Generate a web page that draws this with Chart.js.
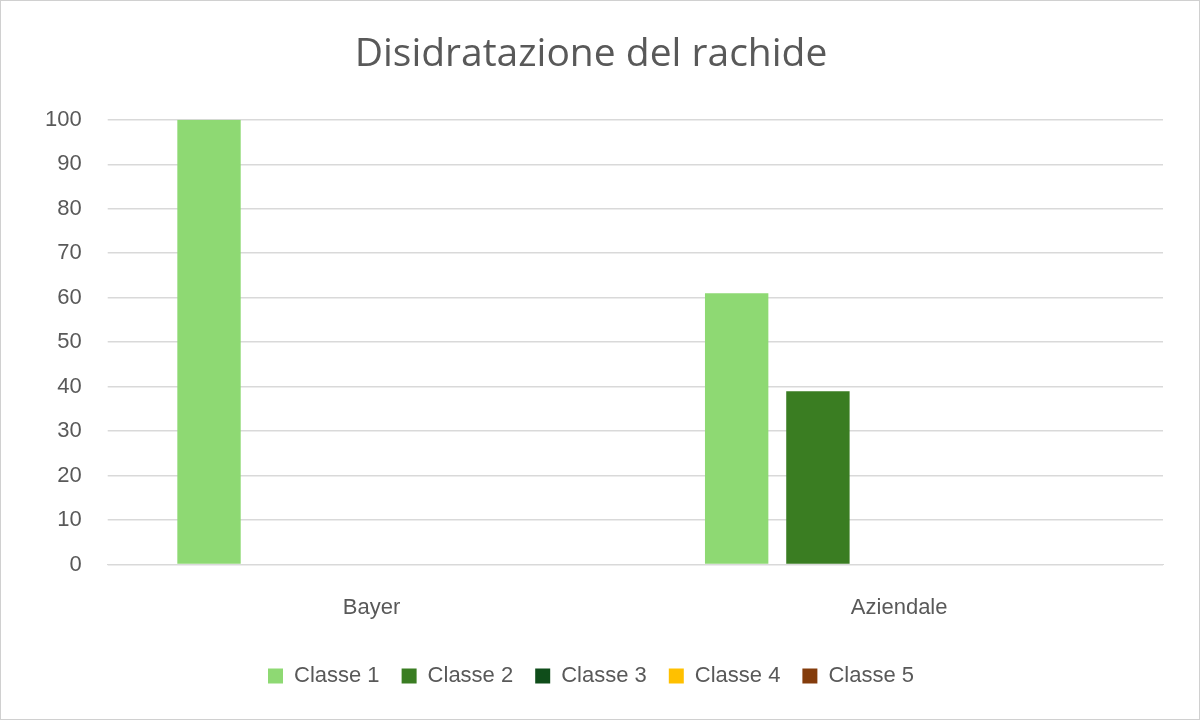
<!DOCTYPE html>
<html><head><meta charset="utf-8">
<script src="https://cdn.jsdelivr.net/npm/chart.js@4"></script>
<style>html,body{margin:0;padding:0;background:#fff}
#wrap{position:absolute;left:0;top:0;width:1198px;height:718px;border:1px solid #d0d0d0}
</style></head><body>
<div id="wrap"><canvas id="c"></canvas></div>
<script>
const categories = ["Bayer", "Aziendale"];
const seriesNames = ["Classe 1", "Classe 2", "Classe 3", "Classe 4", "Classe 5"];
const classe1 = [100, 61];
const classe2 = [0, 39];
const classe3 = [0, 0];
const classe4 = [0, 0];
const classe5 = [0, 0];
const colors = ["#8ed973", "#3a7d22", "#0f4d1a", "#ffc000", "#843c0c"];
const values = [classe1, classe2, classe3, classe4, classe5];
new Chart(document.getElementById('c'), {
  type: 'bar',
  data: { labels: categories, datasets: seriesNames.map((n,i)=>({label:n,data:values[i],backgroundColor:colors[i],categoryPercentage:0.77,barPercentage:0.78})) },
  options: {
    responsive:true, maintainAspectRatio:false, animation:false,
    layout:{padding:{left:18,right:36,top:10,bottom:22}},
    plugins:{
      title:{display:true,text:"Disidratazione del rachide",color:"#595959",font:{size:39,weight:'normal',family:"Open Sans"},padding:{top:20,bottom:42}},
      legend:{position:'bottom',labels:{color:"#595959",font:{size:22,family:"Liberation Sans"},boxWidth:15,boxHeight:15,padding:22}},
      tooltip:{enabled:false}
    },
    scales:{
      x:{grid:{display:false},border:{color:"#d9d9d9"},ticks:{color:"#595959",font:{size:22,family:"Liberation Sans"},padding:22}},
      y:{min:0,max:100,ticks:{stepSize:10,color:"#595959",font:{size:22,family:"Liberation Sans"},padding:26},grid:{color:"#d9d9d9",lineWidth:1.5,tickLength:0},border:{display:false}}
    }
  }
});
</script></body></html>
